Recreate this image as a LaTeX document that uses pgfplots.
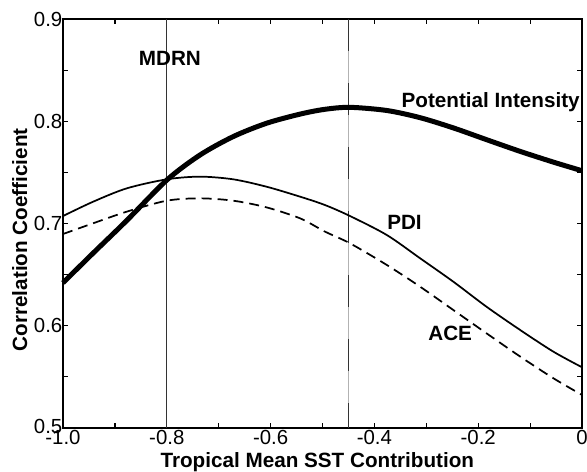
\documentclass[border=0pt]{standalone}
\usepackage{fontspec}
\setmainfont{Liberation Sans}
\usepackage{pgfplots}
\pgfplotsset{compat=1.18}
\begin{document}
\begin{tikzpicture}
\begin{axis}[
  width=389.25pt, height=306.75pt, scale only axis,
  xmin=-1, xmax=0, ymin=0.5, ymax=0.9,
  xtick={-1,-0.8,-0.6,-0.4,-0.2,0},
  xticklabels={-1.0,-0.8,-0.6,-0.4,-0.2,0},
  minor xtick={-0.9,-0.7,-0.5,-0.3,-0.1},
  ytick={0.5,0.6,0.7,0.8,0.9},
  yticklabels={\raisebox{3pt}{0.5},0.6,0.7,0.8,0.9},
  minor ytick={0.55,0.65,0.75,0.85},
  tick align=inside,
  major tick length=3.75pt, minor tick length=3.75pt,
  every tick/.style={black, line width=0.9pt},
  axis line style={line width=1.3pt},
  /pgf/number format/assume math mode=true,
  ticklabel style={font=\fontsize{15.3}{16}\selectfont},
  yticklabel style={inner xsep=0.3pt},
  xticklabel style={inner ysep=0.5pt, yshift=-1pt},
  xlabel={\bfseries Tropical Mean SST Contribution},
  ylabel={\bfseries Correlation Coefficient},
  xlabel style={font=\fontsize{15.5}{16}\selectfont, at={(axis description cs:0.49,0)}, anchor=center, yshift=-25.8pt},
  ylabel style={font=\fontsize{15.5}{16}\selectfont, at={(axis description cs:-0.0835,0.46)}, anchor=center},
  clip=false,
]
% vertical reference lines
\addplot[black!80, line width=0.75pt] coordinates {(-0.8,0.5) (-0.8,0.9)};
\addplot[black!30, line width=0.6pt] coordinates {(-0.45,0.5) (-0.45,0.9)};
\addplot[black!80, line width=1.3pt, dash pattern=on 24pt off 24pt] coordinates {(-0.45,0.9) (-0.45,0.5)};
% Potential Intensity
\addplot[black, line width=3.75pt, smooth] coordinates {
(-1,0.642) (-0.942,0.671) (-0.877,0.703) (-0.8,0.7425) (-0.736,0.767) (-0.672,0.785)
(-0.608,0.798) (-0.543,0.807) (-0.495,0.8117) (-0.447,0.8136) (-0.376,0.8105)
(-0.312,0.8035) (-0.248,0.7935) (-0.184,0.782) (-0.119,0.7705) (-0.055,0.760) (0,0.7516)};
% PDI
\addplot[black, line width=1.3pt, smooth] coordinates {
(-1,0.7073) (-0.942,0.7213) (-0.877,0.7344) (-0.8,0.7432) (-0.736,0.7458) (-0.672,0.7432)
(-0.608,0.736) (-0.543,0.7262) (-0.495,0.718) (-0.447,0.7073) (-0.376,0.6887)
(-0.312,0.666) (-0.248,0.6431) (-0.184,0.6186) (-0.119,0.5958) (-0.055,0.5746) (0,0.5594)};
% ACE
\addplot[black, line width=1.3pt, smooth, dash pattern=on 7.5pt off 4.5pt] coordinates {
(-1,0.6897) (-0.942,0.7002) (-0.877,0.7116) (-0.8,0.7223) (-0.736,0.7246) (-0.672,0.7223)
(-0.608,0.7158) (-0.543,0.705) (-0.495,0.692) (-0.447,0.6806) (-0.376,0.6594)
(-0.312,0.6382) (-0.248,0.6154) (-0.184,0.5926) (-0.119,0.5698) (-0.055,0.5486) (0,0.5323)};
\node[font=\fontsize{15.5}{16}\selectfont\bfseries] at (axis cs:-0.794,0.861) {MDRN};
\node[font=\fontsize{15.5}{16}\selectfont\bfseries, anchor=east, inner xsep=0pt] at (axis cs:-0.004,0.819) {Potential Intensity};
\node[font=\fontsize{15.5}{16}\selectfont\bfseries] at (axis cs:-0.342,0.701) {PDI};
\node[font=\fontsize{15.5}{16}\selectfont\bfseries] at (axis cs:-0.254,0.593) {ACE};
\end{axis}
\pgfresetboundingbox
\path ([xshift=-47.25pt, yshift=14.25pt]current axis.north west) rectangle ([xshift=3.75pt, yshift=-33pt]current axis.south east);
\end{tikzpicture}
\end{document}
